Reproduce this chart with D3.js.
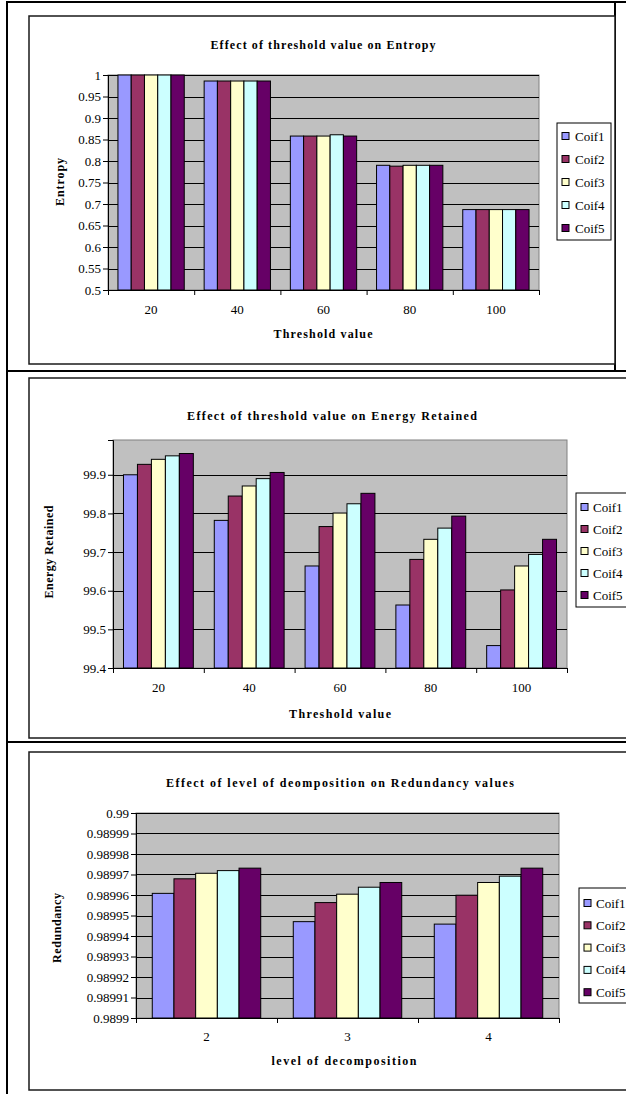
<!DOCTYPE html>
<html>
<head>
<meta charset="utf-8">
<script src="https://cdn.jsdelivr.net/npm/d3@7"></script>
<style>
  html, body { margin: 0; padding: 0; background: #fff; }
  svg { display: block; }
  svg text { font-family: "Liberation Serif", "Times New Roman", Times, serif !important; fill: #000; }
</style>
</head>
<body>
<svg id="chart" width="626" height="1094"></svg>
<script>
// ---------------- DATA ----------------
const seriesNames = ["Coif1", "Coif2", "Coif3", "Coif4", "Coif5"];
const seriesColors = ["#9999FF", "#993366", "#FFFFCC", "#CCFFFF", "#660066"];

// Chart 1: Entropy
const entropyCategories = ["20", "40", "60", "80", "100"];
const entropyCoif1 = [1.0, 0.986, 0.858, 0.790, 0.687];
const entropyCoif2 = [1.0, 0.986, 0.858, 0.788, 0.687];
const entropyCoif3 = [1.0, 0.986, 0.858, 0.790, 0.687];
const entropyCoif4 = [1.0, 0.986, 0.861, 0.790, 0.687];
const entropyCoif5 = [1.0, 0.986, 0.858, 0.790, 0.687];
const entropyTickLabels = ["0.5", "0.55", "0.6", "0.65", "0.7", "0.75", "0.8", "0.85", "0.9", "0.95", "1"];

// Chart 2: Energy Retained
const energyCategories = ["20", "40", "60", "80", "100"];
const energyCoif1 = [99.900, 99.782, 99.664, 99.563, 99.458];
const energyCoif2 = [99.927, 99.845, 99.766, 99.681, 99.602];
const energyCoif3 = [99.940, 99.871, 99.801, 99.733, 99.664];
const energyCoif4 = [99.949, 99.890, 99.825, 99.762, 99.694];
const energyCoif5 = [99.955, 99.906, 99.852, 99.793, 99.733];
const energyTickLabels = ["99.4", "99.5", "99.6", "99.7", "99.8", "99.9"];

// Chart 3: Redundancy
const redundancyCategories = ["2", "3", "4"];
const redundancyCoif1 = [0.9899608, 0.9899470, 0.9899458];
const redundancyCoif2 = [0.9899679, 0.9899563, 0.9899599];
const redundancyCoif3 = [0.9899706, 0.9899604, 0.9899661];
const redundancyCoif4 = [0.9899719, 0.9899638, 0.9899692];
const redundancyCoif5 = [0.9899731, 0.9899661, 0.9899731];
const redundancyTickLabels = ["0.9899", "0.98991", "0.98992", "0.98993", "0.98994", "0.98995",
                              "0.98996", "0.98997", "0.98998", "0.98999", "0.99"];

// ---------------- DRAWING ----------------
const svg = d3.select("#chart");

// outer table frame
const frame = svg.append("g").attr("stroke", "#000").attr("stroke-width", 2);
frame.append("line").attr("x1", 7).attr("x2", 7).attr("y1", 1).attr("y2", 1094);
frame.append("line").attr("x1", 6).attr("x2", 626).attr("y1", 2).attr("y2", 2);
frame.append("line").attr("x1", 6).attr("x2", 626).attr("y1", 371).attr("y2", 371);
frame.append("line").attr("x1", 6).attr("x2", 626).attr("y1", 742).attr("y2", 742);
frame.append("line").attr("x1", 615).attr("x2", 615).attr("y1", 2).attr("y2", 371);

function drawChart(cfg) {
  const g = svg.append("g");
  g.append("rect")
    .attr("x", cfg.box.x).attr("y", cfg.box.y)
    .attr("width", cfg.box.w).attr("height", cfg.box.h)
    .attr("fill", "#fff").attr("stroke", "#1a1a1a").attr("stroke-width", 1.5);

  const p = cfg.plot;
  const tickVals = cfg.tickLabels.map(Number);
  const y = d3.scaleLinear().domain(cfg.domain).range([p.b, p.t]);
  const x = d3.scaleBand().domain(cfg.categories).range([p.l, p.r]);
  const band = x.bandwidth();
  const groupW = band * 5 / 6.5;
  const xs = d3.scaleBand().domain(seriesNames).range([0, groupW]);

  g.append("rect")
    .attr("x", p.l).attr("y", p.t).attr("width", p.r - p.l).attr("height", p.b - p.t)
    .attr("fill", "#C0C0C0").attr("stroke", "#808080").attr("stroke-width", 1);

  g.append("g").selectAll("line").data(tickVals).join("line")
    .attr("x1", p.l).attr("x2", p.r)
    .attr("y1", d => Math.round(y(d)) + 0.5).attr("y2", d => Math.round(y(d)) + 0.5)
    .attr("stroke", "#000").attr("stroke-width", 1);

  const seriesData = cfg.series;
  seriesNames.forEach((s, si) => {
    g.append("g").selectAll("rect").data(seriesData[si]).join("rect")
      .attr("x", (d, i) => x(cfg.categories[i]) + band * 0.75 / 6.5 + xs(s))
      .attr("y", d => y(d))
      .attr("width", xs.bandwidth())
      .attr("height", d => p.b - y(d))
      .attr("fill", seriesColors[si])
      .attr("stroke", "#000").attr("stroke-width", 1);
  });

  const yAxis = g.append("g").attr("transform", `translate(${p.l},0)`)
    .call(d3.axisLeft(y).tickValues(tickVals).tickFormat((d, i) => cfg.tickLabels[i])
      .tickSize(5).tickPadding(2));
  yAxis.attr("font-size", null).attr("font-family", null);
  yAxis.selectAll("text").style("font-size", cfg.tickFont + "px");
  yAxis.selectAll("line,path").attr("stroke", "#000");

  const xb = d3.scaleLinear().domain([0, cfg.categories.length]).range([p.l, p.r]);
  const xAxisTicks = g.append("g").attr("transform", `translate(0,${p.b})`)
    .call(d3.axisBottom(xb).tickValues(d3.range(cfg.categories.length + 1)).tickFormat("")
      .tickSize(5).tickSizeOuter(0));
  xAxisTicks.selectAll("line,path").attr("stroke", "#000");

  const xAxisLabels = g.append("g").attr("transform", `translate(0,${p.b})`)
    .call(d3.axisBottom(x).tickSize(0).tickPadding(cfg.xLabelPad));
  xAxisLabels.attr("font-size", null).attr("font-family", null);
  xAxisLabels.select(".domain").remove();
  xAxisLabels.selectAll("text").style("font-size", "13px");

  g.append("text")
    .attr("x", cfg.title.cx).attr("y", cfg.title.y)
    .attr("text-anchor", "middle")
    .style("font-weight", "bold").style("font-size", "12px")
    .attr("textLength", cfg.title.len).attr("lengthAdjust", "spacing")
    .text(cfg.title.text);

  g.append("text")
    .attr("x", cfg.xTitle.cx).attr("y", cfg.xTitle.y)
    .attr("text-anchor", "middle")
    .style("font-weight", "bold").style("font-size", "12px")
    .attr("textLength", cfg.xTitle.len).attr("lengthAdjust", "spacing")
    .text(cfg.xTitle.text);

  g.append("text")
    .attr("transform", `translate(${cfg.yTitle.x},${cfg.yTitle.cy}) rotate(-90)`)
    .attr("text-anchor", "middle")
    .style("font-weight", "bold").style("font-size", "12px")
    .attr("textLength", cfg.yTitle.len).attr("lengthAdjust", "spacing")
    .text(cfg.yTitle.text);

  const L = cfg.legend;
  g.append("rect").attr("x", L.x).attr("y", L.y).attr("width", L.w).attr("height", L.h)
    .attr("fill", "#fff").attr("stroke", "#000").attr("stroke-width", 1);
  const items = g.append("g").selectAll("g").data(seriesNames).join("g")
    .attr("transform", (d, i) => `translate(${L.x},${L.y0 + i * L.step})`);
  items.append("rect").attr("x", L.sx).attr("y", -3.5).attr("width", 7).attr("height", 7)
    .attr("fill", (d, i) => seriesColors[i]).attr("stroke", "#000").attr("stroke-width", 1);
  items.append("text").attr("x", L.tx).attr("y", 4.5).style("font-size", "13px")
    .text(d => d);
}

drawChart({
  box: { x: 29, y: 16, w: 586, h: 348 },
  plot: { l: 108, r: 539, t: 75, b: 290 },
  domain: [0.5, 1],
  categories: entropyCategories,
  series: [entropyCoif1, entropyCoif2, entropyCoif3, entropyCoif4, entropyCoif5],
  tickLabels: entropyTickLabels,
  tickFont: 13,
  xLabelPad: 15,
  title: { text: "Effect of threshold value on Entropy", cx: 323, y: 49, len: 225 },
  xTitle: { text: "Threshold value", cx: 323, y: 338, len: 99 },
  yTitle: { text: "Entropy", x: 64, cy: 182, len: 48 },
  legend: { x: 557, y: 123, w: 54, h: 117, y0: 136, step: 23, sx: 5, tx: 18 }
});

drawChart({
  box: { x: 29, y: 378, w: 640, h: 360 },
  plot: { l: 113, r: 567, t: 440, b: 668 },
  domain: [99.4, 99.99],
  categories: energyCategories,
  series: [energyCoif1, energyCoif2, energyCoif3, energyCoif4, energyCoif5],
  tickLabels: energyTickLabels,
  tickFont: 13,
  xLabelPad: 15,
  title: { text: "Effect of threshold value on Energy Retained", cx: 332, y: 420, len: 290 },
  xTitle: { text: "Threshold value", cx: 340, y: 718, len: 102 },
  yTitle: { text: "Energy Retained", x: 53, cy: 552, len: 93 },
  legend: { x: 576, y: 493, w: 70, h: 114, y0: 507, step: 22, sx: 5, tx: 17 }
});

drawChart({
  box: { x: 29, y: 752, w: 640, h: 338 },
  plot: { l: 136, r: 559, t: 813, b: 1018 },
  domain: [0.9899, 0.99],
  categories: redundancyCategories,
  series: [redundancyCoif1, redundancyCoif2, redundancyCoif3, redundancyCoif4, redundancyCoif5],
  tickLabels: redundancyTickLabels,
  tickFont: 13,
  xLabelPad: 14,
  title: { text: "Effect of level of deomposition on Redundancy values", cx: 340, y: 787, len: 348 },
  xTitle: { text: "level of decomposition", cx: 344, y: 1065, len: 145 },
  yTitle: { text: "Redundancy", x: 61, cy: 928, len: 70 },
  legend: { x: 579, y: 888, w: 70, h: 115, y0: 903, step: 22.3, sx: 5, tx: 17 }
});
</script>
</body>
</html>
